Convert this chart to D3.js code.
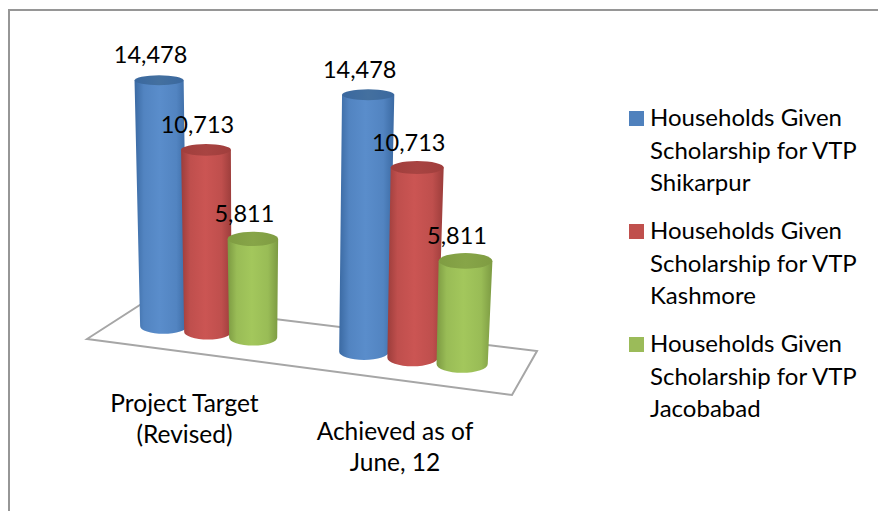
<!DOCTYPE html>
<html>
<head>
<meta charset="utf-8">
<script src="https://cdnjs.cloudflare.com/ajax/libs/d3/7.8.5/d3.min.js"></script>
<style>
html,body{margin:0;padding:0;background:#fff;}
svg{display:block;}
text{font-family:Lato,"Open Sans",sans-serif;fill:#000;}
</style>
</head>
<body>
<svg id="chart" width="878" height="511"></svg>
<script>
const categories = [["Project Target","(Revised)"],["Achieved as of","June, 12"]];
const seriesNames = [
  ["Households Given","Scholarship for VTP","Shikarpur"],
  ["Households Given","Scholarship for VTP","Kashmore"],
  ["Households Given","Scholarship for VTP","Jacobabad"]
];
const shikarpur = [14478,14478];
const kashmore = [10713,10713];
const jacobabad = [5811,5811];
const seriesValues = [shikarpur,kashmore,jacobabad];
const swatchColors = ["#4f81bd","#c0504d","#9bbb59"];
const edgeColors = ["#3b6aa3","#9c3d3b","#7c9a42"];
const midColors = ["#5a8dcb","#cb5553","#a3c75c"];
const capColors = ["#3a689f","#a03e3c","#7f9c42"];
const capMids = ["#44709f","#a84442","#87a548"];

const svg = d3.select("#chart");
const fmt = d3.format(",");

// page frame (top and left rules only)
svg.append("path").attr("d","M9 511V10H878").attr("fill","none").attr("stroke","#969696").attr("stroke-width",2);

// floor perspective: unit square to screen quad
const quad = [[87,339],[512,395],[537,351],[143,303]];
function homography(q){
  const [[x0,y0],[x1,y1],[x2,y2],[x3,y3]] = q;
  const dx1=x1-x2,dx2=x3-x2,dx3=x0-x1+x2-x3,dy1=y1-y2,dy2=y3-y2,dy3=y0-y1+y2-y3;
  const det=dx1*dy2-dx2*dy1;
  const g=(dx3*dy2-dx2*dy3)/det,h=(dx1*dy3-dx3*dy1)/det;
  const a=x1-x0+g*x1,b=x3-x0+h*x3,d=y1-y0+g*y1,e=y3-y0+h*y3;
  return (u,v)=>{const w=g*u+h*v+1;return [(a*u+b*v+x0)/w,(d*u+e*v+y0)/w];};
}
const floor = homography(quad);
const catIdx = d3.range(categories.length);
const serIdx = d3.range(seriesValues.length);
const uCat = d3.scaleBand().domain(catIdx).range([0.068,0.915]).paddingInner(0.313);
const uSer = d3.scaleBand().domain(serIdx).range([0,uCat.bandwidth()]);
const height = d3.scaleLinear().domain([0,14478]).range([0,246]);
const depth = d3.scaleLinear().domain([260,366]).range([1,1.045]).clamp(true);
const lean = d3.scaleLinear().domain([270,470]).range([0,0.034]);
const baseRx = d3.scaleLinear().domain([164,462]).range([23.4,25.6]);
const tilt = d3.scaleLinear().domain([80,360]).range([0.2,0.34]);

svg.append("path")
  .attr("d",d3.line().curve(d3.curveLinearClosed)([[0,0],[1,0],[1,1],[0,1]].map(p=>floor(p[0],p[1]))))
  .attr("fill","#fff").attr("stroke","#a6a6a6").attr("stroke-width",2);

// gradients
const defs = svg.append("defs");
serIdx.forEach(s=>{
  const b=defs.append("linearGradient").attr("id","body"+s);
  [[0,edgeColors[s]],[0.18,d3.interpolateRgb(edgeColors[s],midColors[s])(0.75)],[0.48,midColors[s]],[0.8,d3.interpolateRgb(edgeColors[s],midColors[s])(0.75)],[1,edgeColors[s]]]
    .forEach(o=>b.append("stop").attr("offset",o[0]).attr("stop-color",o[1]));
  const c=defs.append("linearGradient").attr("id","cap"+s);
  [[0,capColors[s]],[0.5,capMids[s]],[1,capColors[s]]]
    .forEach(o=>c.append("stop").attr("offset",o[0]).attr("stop-color",o[1]));
});

// cylinders
const marks = [];
catIdx.forEach(c=>serIdx.forEach(s=>{
  const value = seriesValues[s][c];
  const [bx,by] = floor(uCat(c)+uSer(s)+uSer.bandwidth()/2,0.5);
  const h = height(value)*depth(bx);
  const tx = bx+lean(bx)*h, ty = by-h;
  const rb = baseRx(bx), rt = rb*1.05;
  marks.push({c,s,value,bx,by,tx,ty,rb,rt,ryb:rb*tilt(by),ryt:rt*tilt(ty)});
}));
const g = svg.append("g");
marks.forEach(m=>{
  g.append("path")
   .attr("d",`M${m.tx-m.rt} ${m.ty}L${m.bx-m.rb} ${m.by}A${m.rb} ${m.ryb} 0 0 0 ${m.bx+m.rb} ${m.by}L${m.tx+m.rt} ${m.ty}Z`)
   .attr("fill",`url(#body${m.s})`);
  g.append("ellipse").attr("cx",m.tx).attr("cy",m.ty).attr("rx",m.rt).attr("ry",m.ryt)
   .attr("fill",`url(#cap${m.s})`);
});

// value labels
svg.append("g").selectAll("text").data(marks).join("text")
  .attr("x",d=>d.tx-8.5).attr("y",d=>d.ty-17)
  .attr("text-anchor","middle").attr("font-size",23.5)
  .text(d=>fmt(d.value));

// category labels
const catX = [184.5,395];
const catY = [412,440];
const lineH = 31;
categories.forEach((lines,c)=>lines.forEach((t,i)=>{
  svg.append("text").attr("x",catX[c]).attr("y",catY[c]+i*lineH)
    .attr("text-anchor","middle").attr("font-size",24.5).text(t);
}));

// legend
const legendY = d3.scaleLinear().domain([0,2]).range([111,337]);
seriesNames.forEach((lines,s)=>{
  const y=legendY(s);
  svg.append("rect").attr("x",629).attr("y",y).attr("width",15).attr("height",15).attr("fill",swatchColors[s]);
  lines.forEach((t,i)=>{
    svg.append("text").attr("x",650).attr("y",y+15+i*32.5).attr("font-size",24).text(t);
  });
});
</script>
</body>
</html>
